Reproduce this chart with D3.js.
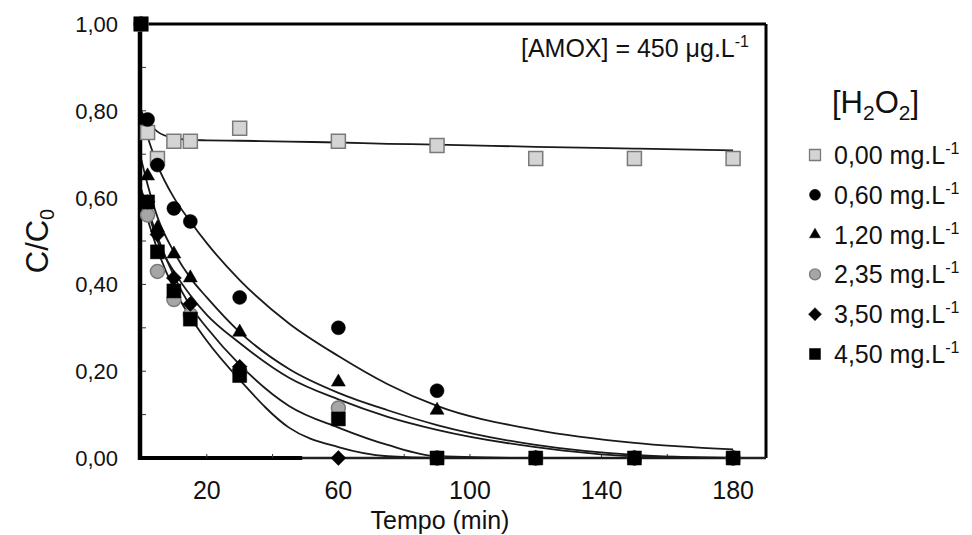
<html>
<head>
<meta charset="utf-8">
<script src="https://d3js.org/d3.v7.min.js"></script>
<style>
    body { margin: 0; background: #fff; }
    svg { font-family: "Liberation Sans", Arial, sans-serif; fill: #111; }
</style>
</head>
<body>
<svg id="chart" width="972" height="535"></svg>
<script>
// sampling times (min) and measured C/C0
const times = [0, 2, 5, 10, 15, 30, 60, 90, 120, 150, 180];
const h2o2_000 = [1.00, 0.75, 0.69, 0.73, 0.73, 0.76, 0.73, 0.72, 0.69, 0.69, 0.69];
const h2o2_060 = [1.00, 0.78, 0.675, 0.575, 0.545, 0.37, 0.30, 0.155, 0, 0, 0];
const h2o2_120 = [1.00, 0.65, 0.53, 0.47, 0.415, 0.29, 0.175, 0.11, 0, 0, 0];
const h2o2_235 = [1.00, 0.56, 0.43, 0.365, 0.33, 0.20, 0.115, 0, 0, 0, 0];
const h2o2_350 = [1.00, 0.59, 0.515, 0.415, 0.355, 0.21, 0, 0, 0, 0, 0];
const h2o2_450 = [1.00, 0.59, 0.475, 0.385, 0.32, 0.19, 0.09, 0, 0, 0, 0];

// fitted curves
const fitTimes = [0, 2, 5, 10, 15, 20, 30, 45, 60, 75, 90, 120, 150, 180];
const fit_000 = [0.80, 0.775, 0.752, 0.737, 0.733, 0.732, 0.731, 0.729, 0.727, 0.724, 0.722, 0.717, 0.713, 0.709];
const fit_060 = [0.79, 0.74, 0.675, 0.60, 0.545, 0.495, 0.41, 0.31, 0.235, 0.17, 0.12, 0.065, 0.035, 0.02];
const fit_120 = [0.69, 0.63, 0.555, 0.475, 0.415, 0.37, 0.29, 0.205, 0.15, 0.11, 0.076, 0.03, 0.007, 0];
const fit_235 = [0.62, 0.57, 0.50, 0.43, 0.375, 0.33, 0.265, 0.185, 0.135, 0.095, 0.065, 0.025, 0.004, 0];
const fit_350 = [0.62, 0.575, 0.51, 0.42, 0.35, 0.30, 0.215, 0.12, 0.07, 0.03, 0.004, 0, 0, 0];
const fit_450 = [0.60, 0.55, 0.48, 0.39, 0.325, 0.27, 0.18, 0.07, 0.025, 0.004, 0, 0, 0, 0];

const legendLabels = ["0,00", "0,60", "1,20", "2,35", "3,50", "4,50"];
const xTickValues = [20, 60, 100, 140, 180];
const yTickValues = [0, 0.2, 0.4, 0.6, 0.8, 1.0];

const series = [
    { vals: h2o2_000, fit: fit_000, shape: "square", fill: "#d4d4d4", stroke: "#7a7a7a" },
    { vals: h2o2_060, fit: fit_060, shape: "circle", fill: "#000", stroke: "#000" },
    { vals: h2o2_120, fit: fit_120, shape: "triangle", fill: "#000", stroke: "#000" },
    { vals: h2o2_235, fit: fit_235, shape: "circle", fill: "#a6a6a6", stroke: "#7c7c7c" },
    { vals: h2o2_350, fit: fit_350, shape: "diamond", fill: "#000", stroke: "#000" },
    { vals: h2o2_450, fit: fit_450, shape: "square", fill: "#000", stroke: "#000" }
];

const svg = d3.select("#chart");
const plotL = 141, plotR = 766, plotT = 24, plotB = 458;

const x = d3.scaleLinear().domain([0, 190]).range([plotL, plotR]);
const y = d3.scaleLinear().domain([0, 1]).range([plotB, plotT]);
const fmt = d3.formatLocale({ decimal: ",", thousands: ".", grouping: [3], currency: ["", ""] }).format(".2f");

function markerPath(shape, s) {
    if (shape === "square") return d3.symbol(d3.symbolSquare, s * s)();
    if (shape === "circle") return d3.symbol(d3.symbolCircle, Math.PI * (s / 2) * (s / 2))();
    if (shape === "triangle") return d3.symbol(d3.symbolTriangle, Math.sqrt(3) / 4 * s * s)();
    // diamond = square turned 45 degrees
    const h = s / 2;
    return `M0,${-h}L${h},0L0,${h}L${-h},0Z`;
}

// frame
svg.append("line").attr("x1", plotL).attr("x2", plotR).attr("y1", plotT).attr("y2", plotT)
    .attr("stroke", "#000").attr("stroke-width", 3);
svg.append("line").attr("x1", plotR).attr("x2", plotR).attr("y1", plotT).attr("y2", plotB)
    .attr("stroke", "#000").attr("stroke-width", 3);
svg.append("line").attr("x1", plotL).attr("x2", plotR).attr("y1", plotB).attr("y2", plotB)
    .attr("stroke", "#222").attr("stroke-width", 2.5);
svg.append("line").attr("x1", plotL - 2).attr("x2", x(49)).attr("y1", plotB).attr("y2", plotB)
    .attr("stroke", "#000").attr("stroke-width", 4);

// minor ticks
svg.append("g").selectAll("line").data(d3.range(20, 190, 20)).join("line")
    .attr("x1", d => x(d)).attr("x2", d => x(d)).attr("y1", plotB).attr("y2", plotB - 4)
    .attr("stroke", "#333").attr("stroke-width", 1);
svg.append("g").selectAll("line").data(d3.range(0.1, 1.0, 0.1)).join("line")
    .attr("x1", plotL).attr("x2", plotL + 5).attr("y1", d => y(d)).attr("y2", d => y(d))
    .attr("stroke", "#333").attr("stroke-width", 1);

// tick labels
svg.append("g").selectAll("text").data(yTickValues).join("text")
    .attr("x", 118).attr("y", d => y(d) + 8)
    .attr("text-anchor", "end").attr("font-size", 22)
    .text(d => fmt(d));
svg.append("g").selectAll("text").data(xTickValues).join("text")
    .attr("x", d => x(d)).attr("y", 499)
    .attr("text-anchor", "middle").attr("font-size", 25)
    .text(d => d);

// axis titles
svg.append("text").attr("x", 440).attr("y", 529).attr("text-anchor", "middle")
    .attr("font-size", 25).text("Tempo (min)");
const yt = svg.append("text").attr("transform", "translate(48,241) rotate(-90)")
    .attr("text-anchor", "middle").attr("font-size", 31);
yt.append("tspan").text("C/C");
yt.append("tspan").attr("font-size", 20).attr("dy", 6).text("0");

// fitted curves
const line = d3.line().curve(d3.curveMonotoneX).x(d => x(d[0])).y(d => y(d[1]));
svg.append("g").selectAll("path").data(series).join("path")
    .attr("d", s => line(fitTimes.map((t, i) => [t, s.fit[i]])))
    .attr("fill", "none").attr("stroke", "#1a1a1a").attr("stroke-width", 1.8);

// left axis on top of curve starts
svg.append("line").attr("x1", plotL - 1).attr("x2", plotL - 1).attr("y1", plotT - 3).attr("y2", plotB + 2)
    .attr("stroke", "#000").attr("stroke-width", 4.5);

// data markers
series.forEach(s => {
    svg.append("g").selectAll("path").data(times.map((t, i) => [t, s.vals[i]])).join("path")
        .attr("transform", d => `translate(${x(d[0])},${y(d[1])})`)
        .attr("d", markerPath(s.shape, s.shape === "diamond" ? 15 : 14))
        .attr("fill", s.fill).attr("stroke", s.stroke)
        .attr("stroke-width", s.fill === "#000" ? 0.5 : 1.5);
});

// annotation
const amox = svg.append("text").attr("x", 749).attr("y", 57).attr("text-anchor", "end").attr("font-size", 25);
amox.append("tspan").text("[AMOX] = 450 μg.L");
amox.append("tspan").attr("font-size", 16).attr("dy", -10).text("-1");

// legend
const lt = svg.append("text").attr("x", 832).attr("y", 113).attr("font-size", 31);
lt.append("tspan").text("[H");
lt.append("tspan").attr("font-size", 21).attr("dy", 7).text("2");
lt.append("tspan").attr("dy", -7).text("O");
lt.append("tspan").attr("font-size", 21).attr("dy", 7).text("2");
lt.append("tspan").attr("dy", -7).text("]");

const lg = svg.append("g").selectAll("g").data(series).join("g")
    .attr("transform", (d, i) => `translate(0,${155 + i * 39.8})`);
lg.append("path")
    .attr("transform", "translate(815,0)")
    .attr("d", s => markerPath(s.shape, s.shape === "diamond" ? 13 : 11))
    .attr("fill", s => s.fill).attr("stroke", s => s.stroke)
    .attr("stroke-width", s => s.fill === "#000" ? 0.5 : 1.3);
const lgt = lg.append("text").attr("x", 834).attr("y", 9).attr("font-size", 25);
lgt.append("tspan").text((d, i) => legendLabels[i] + " mg.L");
lgt.append("tspan").attr("font-size", 16).attr("dy", -10).text("-1");
</script>
</body>
</html>
